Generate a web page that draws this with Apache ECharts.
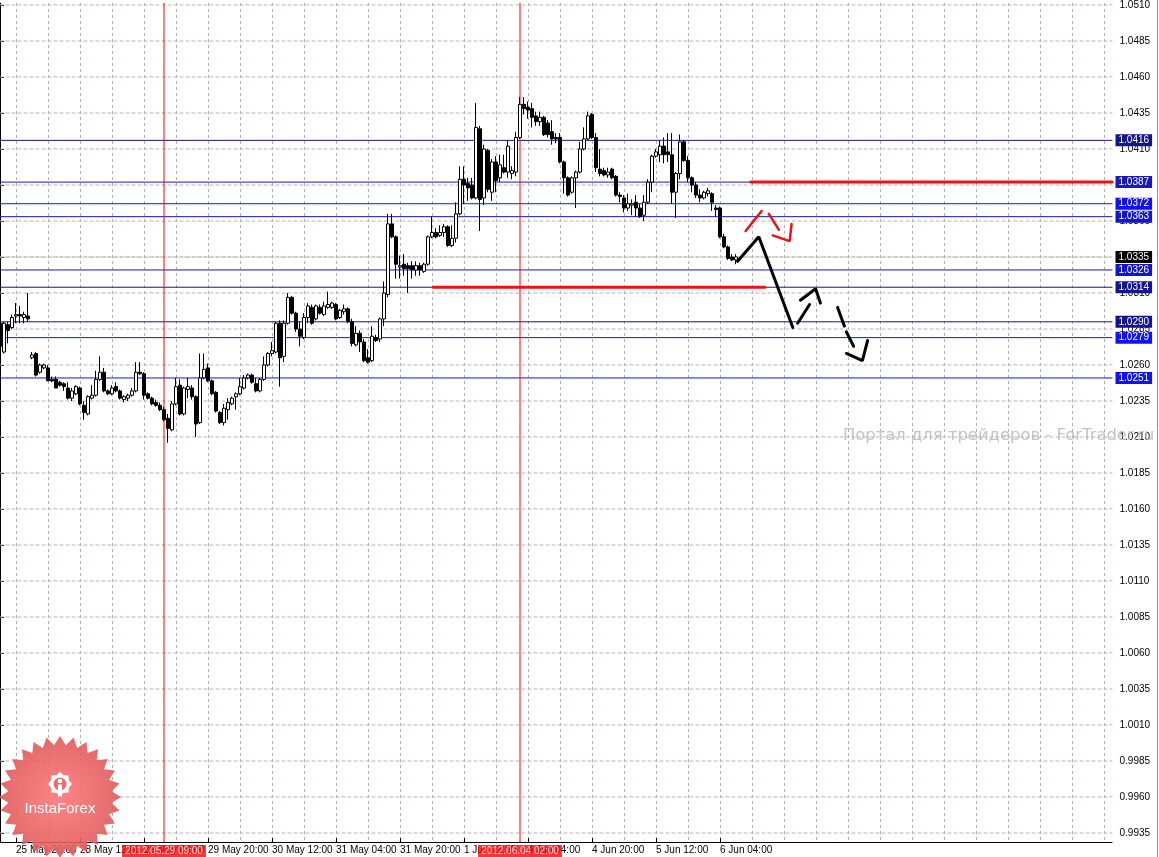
<!DOCTYPE html>
<html>
<head>
<meta charset="utf-8">
<script src="https://cdn.jsdelivr.net/npm/echarts@6/dist/echarts.min.js"></script>
<style>
  html, body { margin: 0; padding: 0; background: #fff; }
  #main { width: 1159px; height: 857px; }
</style>
</head>
<body>
<div id="main"></div>
<script>
// H1 bars, first one 25 May 2012 16:00 (weekends skipped), [open, close, low, high]
const bars = [
  [1.0289, 1.0273, 1.0269, 1.0291], [1.0269, 1.0289, 1.0268, 1.0290], [1.0288, 1.0284, 1.0275, 1.0290],
  [1.0286, 1.0293, 1.0285, 1.0295], [1.0294, 1.0295, 1.0289, 1.0303], [1.0295, 1.0294, 1.0289, 1.0301],
  [1.0293, 1.0295, 1.0289, 1.0297], [1.0294, 1.0292, 1.0290, 1.0310], [1.0265, 1.0267, 1.0264, 1.0269],
  [1.0268, 1.0253, 1.0252, 1.0269], [1.0255, 1.0260, 1.0254, 1.0261], [1.0258, 1.0260, 1.0257, 1.0261],
  [1.0258, 1.0249, 1.0249, 1.0260], [1.0250, 1.0249, 1.0248, 1.0252], [1.0250, 1.0244, 1.0244, 1.0252],
  [1.0248, 1.0246, 1.0245, 1.0249], [1.0247, 1.0245, 1.0242, 1.0248], [1.0244, 1.0237, 1.0236, 1.0248],
  [1.0237, 1.0242, 1.0235, 1.0244], [1.0240, 1.0245, 1.0239, 1.0246], [1.0244, 1.0233, 1.0232, 1.0245],
  [1.0232, 1.0227, 1.0222, 1.0235], [1.0226, 1.0238, 1.0225, 1.0239], [1.0237, 1.0239, 1.0236, 1.0246],
  [1.0239, 1.0250, 1.0238, 1.0256], [1.0250, 1.0255, 1.0249, 1.0266], [1.0255, 1.0242, 1.0241, 1.0258],
  [1.0242, 1.0240, 1.0239, 1.0243], [1.0240, 1.0244, 1.0239, 1.0246], [1.0245, 1.0242, 1.0241, 1.0248],
  [1.0242, 1.0237, 1.0236, 1.0243], [1.0236, 1.0238, 1.0234, 1.0239], [1.0237, 1.0239, 1.0235, 1.0240],
  [1.0239, 1.0242, 1.0238, 1.0244], [1.0242, 1.0255, 1.0241, 1.0262], [1.0255, 1.0254, 1.0253, 1.0262],
  [1.0254, 1.0239, 1.0236, 1.0255], [1.0240, 1.0237, 1.0236, 1.0241], [1.0237, 1.0233, 1.0232, 1.0238],
  [1.0234, 1.0232, 1.0231, 1.0236], [1.0232, 1.0229, 1.0228, 1.0234], [1.0229, 1.0222, 1.0221, 1.0231],
  [1.0223, 1.0216, 1.0206, 1.0226], [1.0215, 1.0233, 1.0214, 1.0235], [1.0233, 1.0245, 1.0232, 1.0251],
  [1.0246, 1.0226, 1.0225, 1.0250], [1.0226, 1.0244, 1.0225, 1.0245], [1.0243, 1.0245, 1.0237, 1.0251],
  [1.0244, 1.0238, 1.0236, 1.0246], [1.0238, 1.0219, 1.0210, 1.0239], [1.0220, 1.0251, 1.0219, 1.0268],
  [1.0251, 1.0257, 1.0250, 1.0268], [1.0258, 1.0249, 1.0248, 1.0261], [1.0249, 1.0240, 1.0239, 1.0250],
  [1.0241, 1.0228, 1.0227, 1.0242], [1.0227, 1.0220, 1.0219, 1.0228], [1.0220, 1.0230, 1.0218, 1.0233],
  [1.0229, 1.0234, 1.0222, 1.0237], [1.0233, 1.0237, 1.0232, 1.0238], [1.0238, 1.0240, 1.0229, 1.0241],
  [1.0240, 1.0245, 1.0239, 1.0251], [1.0244, 1.0251, 1.0243, 1.0253], [1.0251, 1.0253, 1.0250, 1.0254],
  [1.0253, 1.0248, 1.0247, 1.0254], [1.0247, 1.0242, 1.0241, 1.0251], [1.0242, 1.0250, 1.0241, 1.0251],
  [1.0250, 1.0260, 1.0249, 1.0266], [1.0260, 1.0268, 1.0259, 1.0269], [1.0268, 1.0270, 1.0266, 1.0276],
  [1.0269, 1.0289, 1.0268, 1.0290], [1.0289, 1.0265, 1.0245, 1.0291], [1.0266, 1.0289, 1.0262, 1.0291],
  [1.0289, 1.0307, 1.0288, 1.0310], [1.0307, 1.0296, 1.0295, 1.0308], [1.0296, 1.0285, 1.0283, 1.0297],
  [1.0285, 1.0280, 1.0273, 1.0290], [1.0279, 1.0293, 1.0278, 1.0296], [1.0293, 1.0301, 1.0289, 1.0303],
  [1.0300, 1.0289, 1.0288, 1.0302], [1.0292, 1.0301, 1.0291, 1.0302], [1.0300, 1.0296, 1.0295, 1.0302],
  [1.0295, 1.0301, 1.0294, 1.0304], [1.0300, 1.0302, 1.0299, 1.0311], [1.0300, 1.0303, 1.0299, 1.0304],
  [1.0302, 1.0292, 1.0291, 1.0303], [1.0293, 1.0298, 1.0292, 1.0299], [1.0297, 1.0299, 1.0295, 1.0302],
  [1.0299, 1.0290, 1.0289, 1.0300], [1.0290, 1.0275, 1.0273, 1.0292], [1.0274, 1.0282, 1.0273, 1.0287],
  [1.0282, 1.0276, 1.0269, 1.0284], [1.0276, 1.0263, 1.0262, 1.0278], [1.0265, 1.0262, 1.0261, 1.0271],
  [1.0263, 1.0280, 1.0262, 1.0287], [1.0279, 1.0277, 1.0276, 1.0281], [1.0278, 1.0292, 1.0276, 1.0293],
  [1.0292, 1.0310, 1.0287, 1.0318], [1.0309, 1.0358, 1.0307, 1.0365], [1.0358, 1.0349, 1.0348, 1.0365],
  [1.0349, 1.0330, 1.0320, 1.0350], [1.0328, 1.0329, 1.0320, 1.0336], [1.0330, 1.0327, 1.0322, 1.0337],
  [1.0329, 1.0327, 1.0310, 1.0331], [1.0329, 1.0326, 1.0320, 1.0332], [1.0326, 1.0329, 1.0322, 1.0332],
  [1.0329, 1.0326, 1.0322, 1.0331], [1.0325, 1.0330, 1.0324, 1.0331], [1.0330, 1.0349, 1.0329, 1.0350],
  [1.0349, 1.0352, 1.0348, 1.0363], [1.0352, 1.0349, 1.0348, 1.0355], [1.0350, 1.0352, 1.0349, 1.0357],
  [1.0352, 1.0356, 1.0349, 1.0358], [1.0356, 1.0343, 1.0342, 1.0357], [1.0343, 1.0348, 1.0342, 1.0357],
  [1.0348, 1.0365, 1.0345, 1.0373], [1.0365, 1.0389, 1.0364, 1.0398], [1.0389, 1.0385, 1.0372, 1.0398],
  [1.0386, 1.0383, 1.0374, 1.0390], [1.0385, 1.0376, 1.0375, 1.0390], [1.0376, 1.0425, 1.0375, 1.0442],
  [1.0424, 1.0375, 1.0353, 1.0426], [1.0376, 1.0410, 1.0371, 1.0413], [1.0409, 1.0382, 1.0380, 1.0410],
  [1.0380, 1.0401, 1.0374, 1.0403], [1.0401, 1.0388, 1.0380, 1.0405], [1.0390, 1.0399, 1.0387, 1.0406],
  [1.0397, 1.0394, 1.0393, 1.0406], [1.0394, 1.0412, 1.0390, 1.0416], [1.0393, 1.0395, 1.0389, 1.0398],
  [1.0394, 1.0418, 1.0391, 1.0422], [1.0418, 1.0441, 1.0417, 1.0446], [1.0441, 1.0438, 1.0434, 1.0446],
  [1.0439, 1.0437, 1.0431, 1.0443], [1.0438, 1.0432, 1.0425, 1.0442], [1.0433, 1.0429, 1.0426, 1.0436],
  [1.0429, 1.0432, 1.0426, 1.0436], [1.0432, 1.0420, 1.0419, 1.0433], [1.0428, 1.0420, 1.0418, 1.0430],
  [1.0422, 1.0417, 1.0413, 1.0430], [1.0418, 1.0417, 1.0414, 1.0421], [1.0418, 1.0401, 1.0400, 1.0421],
  [1.0401, 1.0390, 1.0379, 1.0402], [1.0390, 1.0378, 1.0377, 1.0391], [1.0380, 1.0390, 1.0379, 1.0391],
  [1.0390, 1.0394, 1.0369, 1.0395], [1.0394, 1.0410, 1.0393, 1.0415], [1.0410, 1.0417, 1.0409, 1.0425],
  [1.0417, 1.0433, 1.0416, 1.0436], [1.0434, 1.0418, 1.0417, 1.0435], [1.0418, 1.0397, 1.0394, 1.0421],
  [1.0396, 1.0393, 1.0391, 1.0410], [1.0395, 1.0392, 1.0391, 1.0397], [1.0392, 1.0394, 1.0390, 1.0397],
  [1.0396, 1.0390, 1.0389, 1.0397], [1.0391, 1.0378, 1.0377, 1.0392], [1.0378, 1.0377, 1.0373, 1.0380],
  [1.0376, 1.0369, 1.0366, 1.0378], [1.0369, 1.0372, 1.0367, 1.0379], [1.0371, 1.0372, 1.0364, 1.0375],
  [1.0373, 1.0369, 1.0363, 1.0378], [1.0369, 1.0363, 1.0362, 1.0372], [1.0364, 1.0373, 1.0360, 1.0378],
  [1.0373, 1.0387, 1.0372, 1.0389], [1.0387, 1.0405, 1.0380, 1.0406], [1.0405, 1.0408, 1.0404, 1.0410],
  [1.0406, 1.0412, 1.0401, 1.0416], [1.0412, 1.0406, 1.0400, 1.0418], [1.0408, 1.0406, 1.0401, 1.0421],
  [1.0406, 1.0380, 1.0372, 1.0421], [1.0380, 1.0393, 1.0362, 1.0394], [1.0393, 1.0415, 1.0389, 1.0420],
  [1.0415, 1.0402, 1.0401, 1.0416], [1.0402, 1.0390, 1.0387, 1.0405], [1.0390, 1.0385, 1.0380, 1.0391],
  [1.0385, 1.0378, 1.0376, 1.0387], [1.0378, 1.0376, 1.0373, 1.0382], [1.0376, 1.0380, 1.0375, 1.0381],
  [1.0379, 1.0381, 1.0377, 1.0383], [1.0379, 1.0373, 1.0367, 1.0380], [1.0369, 1.0368, 1.0363, 1.0371],
  [1.0369, 1.0349, 1.0348, 1.0370], [1.0349, 1.0342, 1.0341, 1.0351], [1.0342, 1.0334, 1.0333, 1.0343],
  [1.0335, 1.0333, 1.0332, 1.0337], [1.0333, 1.0335, 1.0330, 1.0337]
];
const emptyBars = 94;            // free space on the right of the last bar
const firstBar = [2012, 4, 25, 16];

// price scale shown in the window and its labelled ticks
const priceMin = 0.992876, priceMax = 1.051138;
const priceTicks = [
  0.9935, 0.9960, 0.9985, 1.0010, 1.0035, 1.0060, 1.0085, 1.0110, 1.0135, 1.0160, 1.0185, 1.0210,
  1.0235, 1.0260, 1.0285, 1.0310, 1.0335, 1.0360, 1.0385, 1.0410, 1.0435, 1.0460, 1.0485, 1.0510
];

// horizontal levels and their colours
const levels = [1.0416, 1.0387, 1.0372, 1.0363, 1.0326, 1.0314, 1.0290, 1.0279, 1.0251];
const levelColors = ['#14148c', '#1a1ab4', '#1212f0', '#1414c8', '#1414c8', '#14148c', '#14148c', '#1212f0', '#1212f0'];
const bidPrice = 1.0335;

// vertical lines (bar index) with their captions
const vLineBars = [41, 130];
const vLineTexts = ['2012.05.29 09:00', '2012.06.04 02:00'];

// thick red levels, [bar, price] pairs
const redLevels = [
  [[187.7, 1.0387], [278, 1.0387]],
  [[108.3, 1.0314], [191.2, 1.0314]]
];
// hand drawn forecast strokes, [bar, price]
const blackStrokes = [
  [[184.4, 1.0332], [189.7, 1.0349], [198.2, 1.0286]],
  [[199.4, 1.0289], [202.4, 1.0302]],
  [[200.1, 1.0305], [203.9, 1.0313], [205.1, 1.0303]],
  [[209.4, 1.0300], [211.1, 1.0287]],
  [[211.6, 1.0283], [213.4, 1.0273]],
  [[211.6, 1.0268], [215.6, 1.0263], [216.9, 1.0277]]
];
const redStrokes = [
  [[186.4, 1.0353], [190.4, 1.0367]],
  [[192.2, 1.0365], [194.7, 1.0354]],
  [[193.2, 1.0350], [197.4, 1.0346], [197.9, 1.0358]]
];

const months = ['Jan', 'Feb', 'Mar', 'Apr', 'May', 'Jun', 'Jul', 'Aug', 'Sep', 'Oct', 'Nov', 'Dec'];
function two(n) { return (n < 10 ? '0' : '') + n; }

const times = [];
let t = new Date(firstBar[0], firstBar[1], firstBar[2], firstBar[3]);
while (times.length < bars.length + emptyBars) {
  const wd = t.getDay();
  if (wd !== 0 && wd !== 6) {
    times.push(t.getDate() + ' ' + months[t.getMonth()] + ' ' + two(t.getHours()) + ':00');
  }
  t = new Date(t.getTime() + 3600000);
}
const lastIndex = times.length - 1;

const font = 'Liberation Sans';
const boxLabel = (text, bg) => ({
  show: true, formatter: text, color: '#fff', backgroundColor: bg,
  padding: [1, 3, 0, 3], fontSize: 10, fontFamily: font, lineHeight: 11
});

function seg(points, color, width, type, z) {
  return {
    type: 'line', xAxisIndex: 1, yAxisIndex: 0, data: points,
    symbol: 'none', silent: true, z: z, animation: false,
    lineStyle: { color: color, width: width, type: type || 'solid', cap: 'round' }
  };
}

const series = [];

// price grid
priceTicks.forEach(p => series.push(seg([[0, p], [lastIndex, p]], '#b8b0b8', 1, [3, 3], 1)));

series.push({
  type: 'candlestick',
  data: bars,
  barWidth: 3,
  z: 3,
  itemStyle: { color: '#fff', color0: '#000', borderColor: '#000', borderColor0: '#000', borderWidth: 1 }
});

// levels with their price boxes
levels.forEach((p, i) => {
  const s = seg([[0, p], [lastIndex, p]], levelColors[i], 1, 'solid', 2);
  s.endLabel = Object.assign(boxLabel(p.toFixed(4), levelColors[i]), { distance: 3.5 });
  series.push(s);
});
const bid = seg([[0, bidPrice], [lastIndex, bidPrice]], '#b8b8b8', 1, [2, 2], 2);
bid.endLabel = Object.assign(boxLabel(bidPrice.toFixed(4), '#000'), { distance: 3.5 });
series.push(bid);

// vertical lines with date boxes under the time axis
vLineBars.forEach((b, i) => {
  series.push(seg([[b, priceMin], [b, priceMax]], '#ff0000', 1, 'solid', 2));
  series.push({
    type: 'scatter', xAxisIndex: 1, yAxisIndex: 0, data: [[b, priceMin]],
    symbolSize: 0, silent: true, z: 8, clip: false, animation: false,
    label: Object.assign(boxLabel(vLineTexts[i], '#ff0000'), { position: 'bottom', distance: 3 })
  });
});

redLevels.forEach(s => series.push(seg(s, '#ee1111', 3, 'solid', 4)));
blackStrokes.forEach(s => series.push(seg(s, '#000', 3, 'solid', 5)));
redStrokes.forEach(s => series.push(seg(s, '#ee1111', 2.5, 'solid', 5)));

// InstaForex badge
function star(cx, cy, r1, r2, n) {
  const pts = [];
  for (let i = 0; i < n * 2; i++) {
    const a = Math.PI * i / n - Math.PI / 2;
    const r = i % 2 ? r2 : r1;
    pts.push([cx + r * Math.cos(a), cy + r * Math.sin(a)]);
  }
  return pts;
}
const badgeX = 60, badgeY = 797;

const chart = echarts.init(document.getElementById('main'));
chart.setOption({
  animation: false,
  backgroundColor: '#fff',
  grid: { left: 0, right: 47, top: 0, bottom: 15 },
  xAxis: [{
    type: 'category',
    data: times,
    boundaryGap: false,
    axisLine: { lineStyle: { color: '#000', width: 1 } },
    axisTick: {
      show: true, inside: true, length: 4,
      interval: (i) => (i - 4) % 16 === 0 && i < bars.length,
      lineStyle: { color: '#000' }
    },
    axisLabel: {
      interval: (i) => (i - 4) % 16 === 0 && i < bars.length,
      align: 'left', margin: 3, color: '#000', fontSize: 10, fontFamily: font
    },
    splitLine: {
      show: true,
      interval: (i) => (i - 4) % 8 === 0,
      lineStyle: { color: '#a8b4ac', width: 1, type: [3, 3] }
    }
  }, {
    type: 'value', min: 0, max: lastIndex, show: false
  }],
  yAxis: {
    type: 'value',
    position: 'right',
    offset: 2.5,
    min: priceMin, max: priceMax,
    axisLine: { show: true, lineStyle: { color: '#000', width: 1 } },
    axisTick: { show: true, length: 4, customValues: priceTicks, lineStyle: { color: '#000' } },
    axisLabel: {
      margin: 5, color: '#000', fontSize: 10, fontFamily: font,
      customValues: priceTicks,
      formatter: (v) => v.toFixed(4)
    },
    splitLine: { show: false }
  },
  series: series,
  graphic: [
    {
      type: 'text', left: 843, top: 428, silent: true, z: 1,
      style: { text: 'Портал для трейдеров - ForTrader.ru', fill: '#c4c4c4', font: '16.4px "DejaVu Sans"' }
    },
    {
      type: 'polygon', silent: true, z: 50,
      shape: { points: star(badgeX, badgeY, 61, 52, 28) },
      style: {
        fill: new echarts.graphic.RadialGradient(0.5, 0.5, 0.5, [
          { offset: 0, color: '#ff7878' }, { offset: 1, color: '#e05a5a' }
        ]),
        opacity: 0.9
      }
    },
    {
      type: 'polygon', silent: true, z: 51,
      shape: { points: star(badgeX, badgeY - 13, 12, 9.5, 8) },
      style: { fill: '#fff' }
    },
    {
      type: 'circle', silent: true, z: 52,
      shape: { cx: badgeX, cy: badgeY - 13, r: 6.5 },
      style: { fill: '#f06a6a' }
    },
    {
      type: 'circle', silent: true, z: 53,
      shape: { cx: badgeX, cy: badgeY - 16, r: 2.3 },
      style: { fill: '#fff' }
    },
    {
      type: 'rect', silent: true, z: 53,
      shape: { x: badgeX - 2, y: badgeY - 12.5, width: 4, height: 12 },
      style: { fill: '#fff' }
    },
    {
      type: 'text', silent: true, z: 54,
      style: {
        text: 'InstaForex', x: badgeX, y: badgeY + 12, align: 'center', verticalAlign: 'middle',
        fill: '#fff', font: '15px "Liberation Sans"'
      }
    },
    {
      type: 'line', silent: true, z: 60,
      shape: { x1: 1157.5, y1: 0, x2: 1157.5, y2: 857 },
      style: { stroke: '#a08c78', lineWidth: 1 }
    }
  ]
});
</script>
</body>
</html>
